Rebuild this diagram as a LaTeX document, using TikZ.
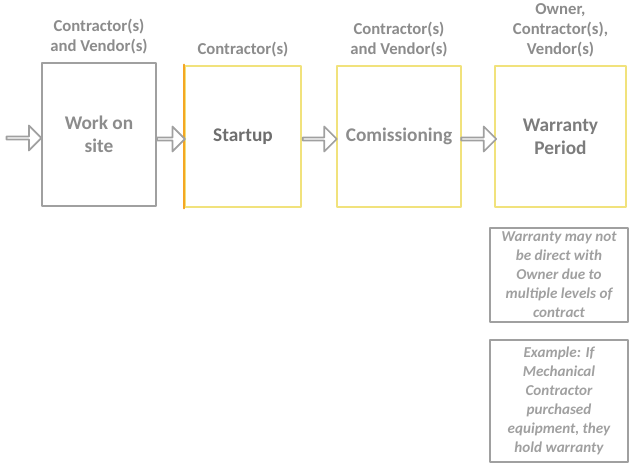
\documentclass[tikz,border=0pt]{standalone}
\usepackage{fontspec}
\setmainfont{Carlito}
\usetikzlibrary{shapes.arrows,calc}
\definecolor{txtgray}{HTML}{8C8C8C}
\definecolor{darkgray}{HTML}{6E6E6E}
\definecolor{boxgray}{HTML}{A0A0A0}
\definecolor{boxyellow}{HTML}{F1E27C}
\definecolor{edgeorange}{HTML}{F5A623}

\begin{document}
\begin{tikzpicture}[line cap=round,line join=round,x=1.0cm,y=1.0cm,
	stage/.style={draw=boxyellow,line width=1.4pt,minimum height=2.82cm,inner sep=0pt,align=center,font=\bfseries\fontsize{11}{13}\selectfont},
	who/.style={text=txtgray,align=center,font=\bfseries\fontsize{9.5}{11.3}\selectfont},
	note/.style={draw=boxgray,line width=0.7pt,minimum width=2.76cm,inner sep=0pt,align=center,text=boxgray,font=\bfseries\itshape\fontsize{8.6}{10.8}\selectfont},
	flow/.style={single arrow,draw=boxgray,fill=white,line width=1pt,inner sep=0pt,minimum width=0.5cm,single arrow head extend=0.13cm}]
			\useasboundingbox (0,0) rectangle (12.58,9.32);
			% stages
			\node[stage,draw=boxgray,line width=0.8pt,minimum width=2.28cm,minimum height=2.86cm,text=txtgray] (site) at (1.98,6.63) {Work on\\site};
			\node[stage,minimum width=2.32cm,text=darkgray] (startup) at (4.86,6.59) {Startup};
			\draw[edgeorange,line width=1.3pt] (startup.north west) -- (startup.south west);
			\node[stage,minimum width=2.48cm,text=txtgray] (comm) at (7.98,6.59) {Comissioning};
			\node[stage,minimum width=2.62cm,text=darkgray!90] (warr) at (11.21,6.59) {Warranty\\Period};
			% who is responsible
			\node[who,above=1pt] (whosite) at (site.north) {Contractor(s)\\and Vendor(s)};
			\node[who,above=1pt] (whostart) at (startup.north) {Contractor(s)};
			\node[who,above=1pt] (whocomm) at (comm.north) {Contractor(s)\\and Vendor(s)};
			\node[who,above=1pt] (whowarr) at (warr.north) {Owner,\\Contractor(s),\\Vendor(s)};
			% arrows between stages
			\coordinate (start) at (0.1,6.56);
			\node[flow,minimum height=0.7cm] (a0) at ($(start)!0.5!(site.west|-start)$) {};
			\node[flow,minimum height=0.56cm] (a1) at ($(site.east)!0.5!(startup.west)+(0,-0.07)$) {};
			\node[flow,minimum height=0.68cm] (a2) at ($(startup.east)!0.5!(comm.west)+(0,-0.05)$) {};
			\node[flow,minimum height=0.7cm] (a3) at ($(comm.east)!0.5!(warr.west)+(0,-0.05)$) {};
			% side notes
			\node[note,minimum height=1.88cm] (note1) at (11.18,3.82) {Warranty may not\\be direct with\\Owner due to\\multiple levels of\\contract};
			\node[note,minimum height=2.44cm] (note2) at (11.18,1.30) {Example: If\\Mechanical\\Contractor\\purchased\\equipment, they\\hold warranty};
		\end{tikzpicture}
\end{document}
